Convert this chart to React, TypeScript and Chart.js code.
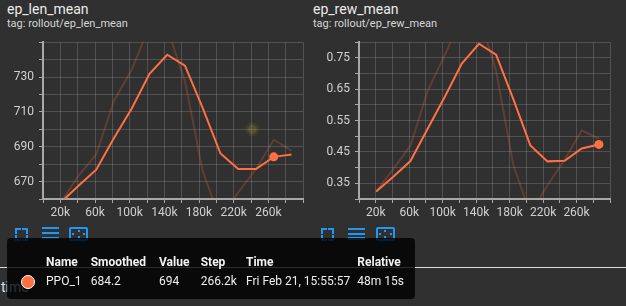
import React, { useEffect, useRef } from "react";
import { Chart, registerables } from "chart.js";

Chart.register(...registerables);

// ---- data ----
const STEPS = [20480, 40960, 61440, 81920, 102400, 122880, 143360, 163840, 184320, 204800, 225280, 245760, 266240, 286720];

const LEN_RAW = [658, 673.4, 685.6, 716.4, 734.2, 759.4, 758.4, 727.4, 676, 647.5, 663.9, 677.2, 694, 687.8];
const LEN_SMOOTHED = [658, 667.6, 676.8, 695, 712, 731.9, 742.8, 736.5, 712.1, 686.1, 677.2, 677.2, 684.2, 685.5];

const REW_RAW = [0.324, 0.395, 0.47, 0.644, 0.758, 0.88, 0.885, 0.709, 0.41, 0.252, 0.344, 0.425, 0.519, 0.493];
const REW_SMOOTHED = [0.324, 0.371, 0.421, 0.523, 0.625, 0.732, 0.795, 0.76, 0.619, 0.471, 0.42, 0.422, 0.461, 0.474];

const X_TICK_LABELS = ["20k", "60k", "100k", "140k", "180k", "220k", "260k"];
const LEN_Y_LABELS = [670, 690, 710, 730];
const REW_Y_LABELS = ["0.35", "0.45", "0.55", "0.65", "0.75"];

const LEN_DOT_INDEX = 12;
const REW_DOT_INDEX = 13;
const CURSOR_GLOW = [{ x: 241500, y: 700 }];

const TOOLTIP_HEADERS = ["Name", "Smoothed", "Value", "Step", "Time", "Relative"];
const TOOLTIP_ROW = ["PPO_1", "684.2", "694", "266.2k", "Fri Feb 21, 15:55:57", "48m 15s"];

const ORANGE = "#ff7043";
const BLUE = "#2196f3";
const FONT = "Roboto, 'Noto Sans', sans-serif";

type ChartProps = {
  left: number;
  top: number;
  width: number;
  height: number;
  padTop: number;
  padRight: number;
  yWidth: number;
  raw: number[];
  smoothed: number[];
  yMin: number;
  yMax: number;
  yStep: number;
  yLabel: (v: number) => string;
  dotIndex: number;
  glow?: { x: number; y: number }[];
};

function LineChart(p: ChartProps) {
  const ref = useRef<HTMLCanvasElement | null>(null);
  useEffect(() => {
    if (!ref.current) return;
    const rawPts = STEPS.map((s, i) => ({ x: s, y: p.raw[i] }));
    const smPts = STEPS.map((s, i) => ({ x: s, y: p.smoothed[i] }));
    const radii = STEPS.map((_, i) => (i === p.dotIndex ? 4.5 : 0));
    const datasets: any[] = [
      {
        data: smPts,
        borderColor: ORANGE,
        borderWidth: 2,
        pointRadius: radii,
        pointBackgroundColor: ORANGE,
        pointBorderWidth: 0,
        tension: 0,
        clip: 0,
        order: 0,
      },
      {
        data: rawPts,
        borderColor: "rgba(255,112,67,0.22)",
        borderWidth: 2,
        pointRadius: 0,
        tension: 0,
        clip: 0,
        order: 1,
      },
    ];
    if (p.glow) {
      datasets.push({
        data: p.glow,
        showLine: false,
        pointRadius: 7,
        pointBackgroundColor: "rgba(160,155,40,0.12)",
        pointBorderWidth: 0,
        order: 3,
      });
      datasets.push({
        data: p.glow,
        showLine: false,
        pointRadius: 4.5,
        pointBackgroundColor: "rgba(170,165,45,0.2)",
        pointBorderWidth: 0,
        order: 2,
      });
    }
    const chart = new Chart(ref.current, {
      type: "line",
      data: { datasets },
      options: {
        animation: false,
        responsive: false,
        events: [],
        layout: { padding: { top: p.padTop, right: p.padRight, left: 0, bottom: 0 } },
        plugins: { legend: { display: false }, tooltip: { enabled: false } },
        scales: {
          x: {
            type: "linear",
            min: 0,
            max: 300000,
            afterFit: (s: any) => {
              s.height = 31;
            },
            border: { color: "#a8a8a8", width: 2 },
            grid: { color: "rgba(255,255,255,0.16)", tickColor: "#a8a8a8", tickLength: 4, lineWidth: 1 },
            ticks: {
              stepSize: 20000,
              autoSkip: false,
              maxRotation: 0,
              padding: 3,
              color: "#d0d0d0",
              font: { family: FONT, size: 12 },
              callback: (v: any) => {
                const l = `${Math.round(Number(v) / 1000)}k`;
                return X_TICK_LABELS.includes(l) ? l : "";
              },
            },
          },
          y: {
            type: "linear",
            min: p.yMin,
            max: p.yMax,
            afterFit: (s: any) => {
              s.width = p.yWidth;
            },
            border: { color: "#a8a8a8", width: 2 },
            grid: { color: "rgba(255,255,255,0.16)", tickColor: "#a8a8a8", tickLength: 4, lineWidth: 1 },
            ticks: {
              stepSize: p.yStep,
              autoSkip: false,
              padding: 5,
              color: "#d0d0d0",
              font: { family: FONT, size: 12 },
              callback: (v: any) => p.yLabel(Number(v)),
            },
          },
        },
      },
    });
    return () => chart.destroy();
  }, []);
  return (
    <canvas
      ref={ref}
      width={p.width}
      height={p.height}
      style={{ position: "absolute", left: p.left, top: p.top, width: p.width, height: p.height }}
    />
  );
}

function FullscreenIcon({ x, y }: { x: number; y: number }) {
  const c = (s: React.CSSProperties) => (
    <div style={{ position: "absolute", width: 4, height: 4, borderColor: BLUE, borderStyle: "solid", borderWidth: 0, ...s }} />
  );
  return (
    <div style={{ position: "absolute", left: x, top: y, width: 13, height: 13 }}>
      {c({ left: 0, top: 0, borderTopWidth: 2, borderLeftWidth: 2 })}
      {c({ right: 0, top: 0, borderTopWidth: 2, borderRightWidth: 2 })}
      {c({ left: 0, bottom: 0, borderBottomWidth: 2, borderLeftWidth: 2 })}
      {c({ right: 0, bottom: 0, borderBottomWidth: 2, borderRightWidth: 2 })}
    </div>
  );
}

function MenuIcon({ x, y }: { x: number; y: number }) {
  return (
    <div style={{ position: "absolute", left: x, top: y, width: 17, height: 12 }}>
      {[0, 4.7, 9.4].map((t) => (
        <div key={t} style={{ position: "absolute", left: 0, top: t, width: 17, height: 2.2, background: BLUE }} />
      ))}
    </div>
  );
}

function FitIcon({ x, y }: { x: number; y: number }) {
  const d = (s: React.CSSProperties) => (
    <div style={{ position: "absolute", width: 2, height: 2, background: BLUE, ...s }} />
  );
  return (
    <div
      style={{
        position: "absolute",
        left: x,
        top: y,
        width: 15,
        height: 10,
        border: `2px solid ${BLUE}`,
        borderRadius: 2,
      }}
    >
      {d({ left: 6.5, top: 1 })}
      {d({ left: 6.5, top: 7 })}
      {d({ left: 1, top: 4 })}
      {d({ left: 12, top: 4 })}
    </div>
  );
}

const TOOLTIP_COLS = [46, 90.7, 159, 200.7, 246, 357.3];

export default function App() {
  useEffect(() => {
    document.body.style.margin = "0";
    document.body.style.background = "#303030";
  }, []);
  return (
    <div
      style={{
        position: "fixed",
        left: 0,
        top: 0,
        width: 626,
        height: 306,
        background: "#303030",
        overflow: "hidden",
        fontFamily: FONT,
      }}
    >
      {/* titles */}
      <div style={{ position: "absolute", left: 7, top: 1, fontSize: 14, lineHeight: "16px", color: "#ececec" }}>ep_len_mean</div>
      <div style={{ position: "absolute", left: 7, top: 16.5, fontSize: 11, lineHeight: "13px", color: "#d6d6d6" }}>
        tag: rollout/ep_len_mean
      </div>
      <div style={{ position: "absolute", left: 313, top: 1, fontSize: 14, lineHeight: "16px", color: "#ececec" }}>ep_rew_mean</div>
      <div style={{ position: "absolute", left: 313, top: 16.5, fontSize: 11, lineHeight: "13px", color: "#d6d6d6" }}>
        tag: rollout/ep_rew_mean
      </div>

      <LineChart
        left={0}
        top={30}
        width={310}
        height={200}
        padTop={10}
        padRight={7}
        yWidth={43}
        raw={LEN_RAW}
        smoothed={LEN_SMOOTHED}
        yMin={660}
        yMax={750}
        yStep={10}
        yLabel={(v) => (LEN_Y_LABELS.includes(Math.round(v)) ? String(Math.round(v)) : "")}
        dotIndex={LEN_DOT_INDEX}
        glow={CURSOR_GLOW}
      />
      <LineChart
        left={312}
        top={30}
        width={314}
        height={200}
        padTop={11}
        padRight={16}
        yWidth={47}
        raw={REW_RAW}
        smoothed={REW_SMOOTHED}
        yMin={0.3}
        yMax={0.8}
        yStep={0.05}
        yLabel={(v) => (REW_Y_LABELS.includes(v.toFixed(2)) ? v.toFixed(2) : "")}
        dotIndex={REW_DOT_INDEX}
      />

      {/* toolbar icons */}
      <FullscreenIcon x={15} y={227.5} />
      <MenuIcon x={41.7} y={227.3} />
      <FitIcon x={69.3} y={226.7} />
      <FullscreenIcon x={321} y={228} />
      <MenuIcon x={347.5} y={228} />
      <FitIcon x={375.5} y={227} />

      {/* separator line and "time" label */}
      <div style={{ position: "absolute", left: 0, top: 267, width: 626, height: 1, background: "#dcdcdc" }} />
      <div style={{ position: "absolute", left: 1, top: 278.5, fontSize: 14, lineHeight: "16px", color: "#e0e0e0" }}>time</div>

      {/* tooltip */}
      <div
        style={{
          position: "absolute",
          left: 7,
          top: 238,
          width: 408,
          height: 61,
          background: "rgba(0,0,0,0.8)",
          borderRadius: 4,
        }}
      />
      {TOOLTIP_HEADERS.map((h, i) => (
        <div
          key={h}
          style={{
            position: "absolute",
            left: TOOLTIP_COLS[i],
            top: 255,
            fontSize: 12,
            lineHeight: "14px",
            fontWeight: 700,
            color: "#f2f2f2",
            whiteSpace: "nowrap",
          }}
        >
          {h}
        </div>
      ))}
      <div
        style={{
          position: "absolute",
          left: 20.5,
          top: 274.8,
          width: 12,
          height: 12,
          borderRadius: "50%",
          background: ORANGE,
          border: "1.5px solid #ffffff",
        }}
      />
      {TOOLTIP_ROW.map((t, i) => (
        <div
          key={t}
          style={{
            position: "absolute",
            left: TOOLTIP_COLS[i],
            top: 274,
            fontSize: 12,
            lineHeight: "14px",
            color: "#eeeeee",
            whiteSpace: "nowrap",
          }}
        >
          {t}
        </div>
      ))}
    </div>
  );
}
